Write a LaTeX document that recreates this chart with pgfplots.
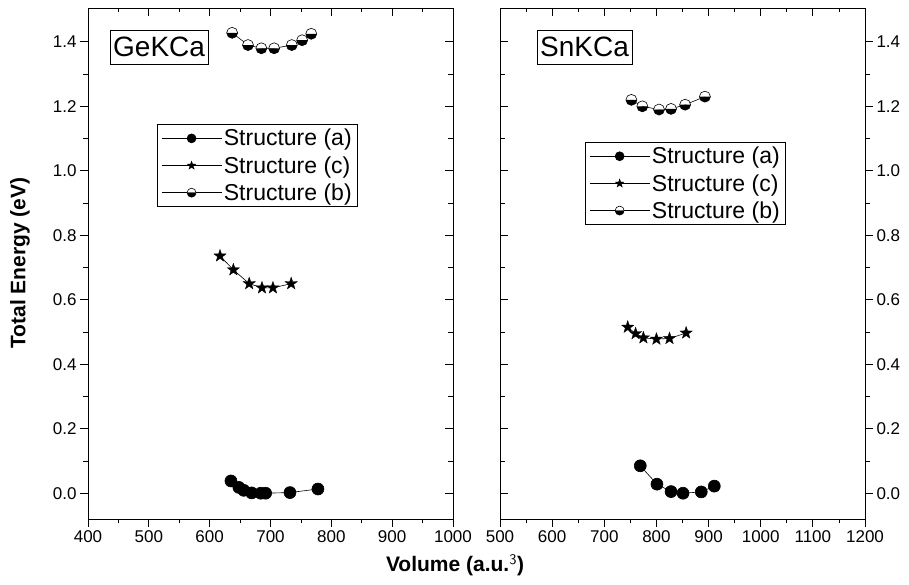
\documentclass[border=0pt]{standalone}
\usepackage{pgfplots}
\pgfplotsset{compat=1.18}
\usepackage{fontspec}
\setmainfont{Liberation Sans}
\usetikzlibrary{plotmarks}

\pgfdeclareplotmark{fstar}{%
  \pgfpathmoveto{\pgfpointpolar{90}{\pgfplotmarksize}}%
  \pgfpathlineto{\pgfpointpolar{126}{0.4\pgfplotmarksize}}%
  \pgfpathlineto{\pgfpointpolar{162}{\pgfplotmarksize}}%
  \pgfpathlineto{\pgfpointpolar{198}{0.4\pgfplotmarksize}}%
  \pgfpathlineto{\pgfpointpolar{234}{\pgfplotmarksize}}%
  \pgfpathlineto{\pgfpointpolar{270}{0.4\pgfplotmarksize}}%
  \pgfpathlineto{\pgfpointpolar{306}{\pgfplotmarksize}}%
  \pgfpathlineto{\pgfpointpolar{342}{0.4\pgfplotmarksize}}%
  \pgfpathlineto{\pgfpointpolar{18}{\pgfplotmarksize}}%
  \pgfpathlineto{\pgfpointpolar{54}{0.4\pgfplotmarksize}}%
  \pgfpathclose
  \pgfusepathqfillstroke
}

\pgfplotsset{
  base/.style={
    scale only axis, width=365pt, height=511pt,
    ymin=-0.08, ymax=1.505,
    ytick={0,0.2,0.4,0.6,0.8,1.0,1.2,1.4},
    minor y tick num=1, minor x tick num=1,
    major tick length=8pt, minor tick length=4.5pt,
    every tick/.style={black, line width=0.8pt},
    axis line style={black, line width=0.8pt},
    tick label style={font=\fontsize{17}{20}\selectfont},
    /pgf/number format/assume math mode=true,
    yticklabel style={/pgf/number format/.cd,fixed,fixed zerofill,precision=1},
    xticklabel style={/pgf/number format/.cd,1000 sep={}},
  },
  legstyle/.style={
    legend style={draw=black, line width=0.6pt, font=\fontsize{23}{27}\selectfont,
      inner xsep=4pt, inner ysep=3pt, row sep=5pt, cells={anchor=west},
      /tikz/every even column/.append style={column sep=3pt}},
    legend image code/.code={\draw[mark repeat=2,mark phase=2,mark size=4.5pt] plot coordinates {(0pt,0pt) (30pt,0pt) (60pt,0pt)};},
  },
  sa/.style={black, line width=0.6pt, mark=*, mark size=6pt, mark options={solid, fill=black}},
  sc/.style={black, line width=0.6pt, mark=fstar, mark size=6.5pt, mark options={solid, fill=black, line width=0.3pt}},
  sb/.style={black, line width=0.6pt, mark=halfcircle*, mark size=5.5pt, mark options={solid, fill=white, draw=black, mark color=black}},
}

\begin{document}
\begin{tikzpicture}
% ---------- left panel ----------
\begin{axis}[base, name=left, at={(0pt,0pt)}, anchor=south west,
  xmin=400, xmax=1000, xtick={400,500,...,1000},
  tick align=outside, xtick pos=bottom, ytick pos=left,
  legstyle, legend style={at={(0.189,0.773)}, anchor=north west}]
\addplot[sa] coordinates {(635,0.038) (648,0.018) (656,0.009) (669,0.001) (684,0.0) (692,0.0) (732,0.002) (778,0.013)};
\addlegendentry{Structure (a)}
\addplot[sc] coordinates {(617,0.736) (639,0.693) (665,0.650) (686,0.637) (704,0.637) (734,0.650)};
\addlegendentry{Structure (c)}
\addplot[sb] coordinates {(637,1.428) (663,1.390) (685,1.380) (706,1.380) (735,1.390) (752,1.405) (767,1.425)};
\addlegendentry{Structure (b)}
\node[draw=black, line width=0.6pt, font=\fontsize{28}{32}\selectfont, inner xsep=3pt, inner ysep=7pt, anchor=north west, fill=white] at (rel axis cs:0.06,0.957) {GeKCa};
\end{axis}
\begin{axis}[base, at={(0pt,0pt)}, anchor=south west,
  xmin=400, xmax=1000, xtick={400,500,...,1000},
  tick align=inside, xtick pos=top, ytick pos=right,
  xticklabels={}, yticklabels={}]
\end{axis}
% ---------- right panel ----------
\begin{axis}[base, name=right, at={(412pt,0pt)}, anchor=south west,
  xmin=500, xmax=1200, xtick={500,600,...,1200},
  tick align=outside, xtick pos=bottom, ytick pos=right, yticklabel pos=right,
  legstyle, legend style={at={(0.233,0.738)}, anchor=north west}]
\addplot[sa] coordinates {(769,0.085) (801,0.028) (828,0.005) (851,0.0) (886,0.004) (911,0.022)};
\addlegendentry{Structure (a)}
\addplot[sc] coordinates {(745,0.515) (760,0.495) (775,0.482) (800,0.478) (825,0.480) (857,0.497)};
\addlegendentry{Structure (c)}
\addplot[sb] coordinates {(752,1.220) (773,1.200) (805,1.190) (828,1.192) (855,1.205) (893,1.230)};
\addlegendentry{Structure (b)}
\node[draw=black, line width=0.6pt, font=\fontsize{28}{32}\selectfont, inner xsep=3pt, inner ysep=7pt, anchor=north west, fill=white] at (rel axis cs:0.101,0.957) {SnKCa};
\end{axis}
\begin{axis}[base, at={(412pt,0pt)}, anchor=south west,
  xmin=500, xmax=1200, xtick={500,600,...,1200},
  tick align=inside, xtick pos=top, ytick pos=left,
  xticklabels={}, yticklabels={}]
\end{axis}
% ---------- shared labels ----------
\node[font=\bfseries\fontsize{21}{24}\selectfont] at (367pt,-46pt) {Volume (a.u.$^{\mathsf{3}}$)};
\node[font=\bfseries\fontsize{21}{24}\selectfont, rotate=90] at (-68pt,256pt) {Total Energy (eV)};
\pgfresetboundingbox
\path[use as bounding box] (-88pt,-66pt) rectangle (821pt,519pt);
\end{tikzpicture}
\end{document}
